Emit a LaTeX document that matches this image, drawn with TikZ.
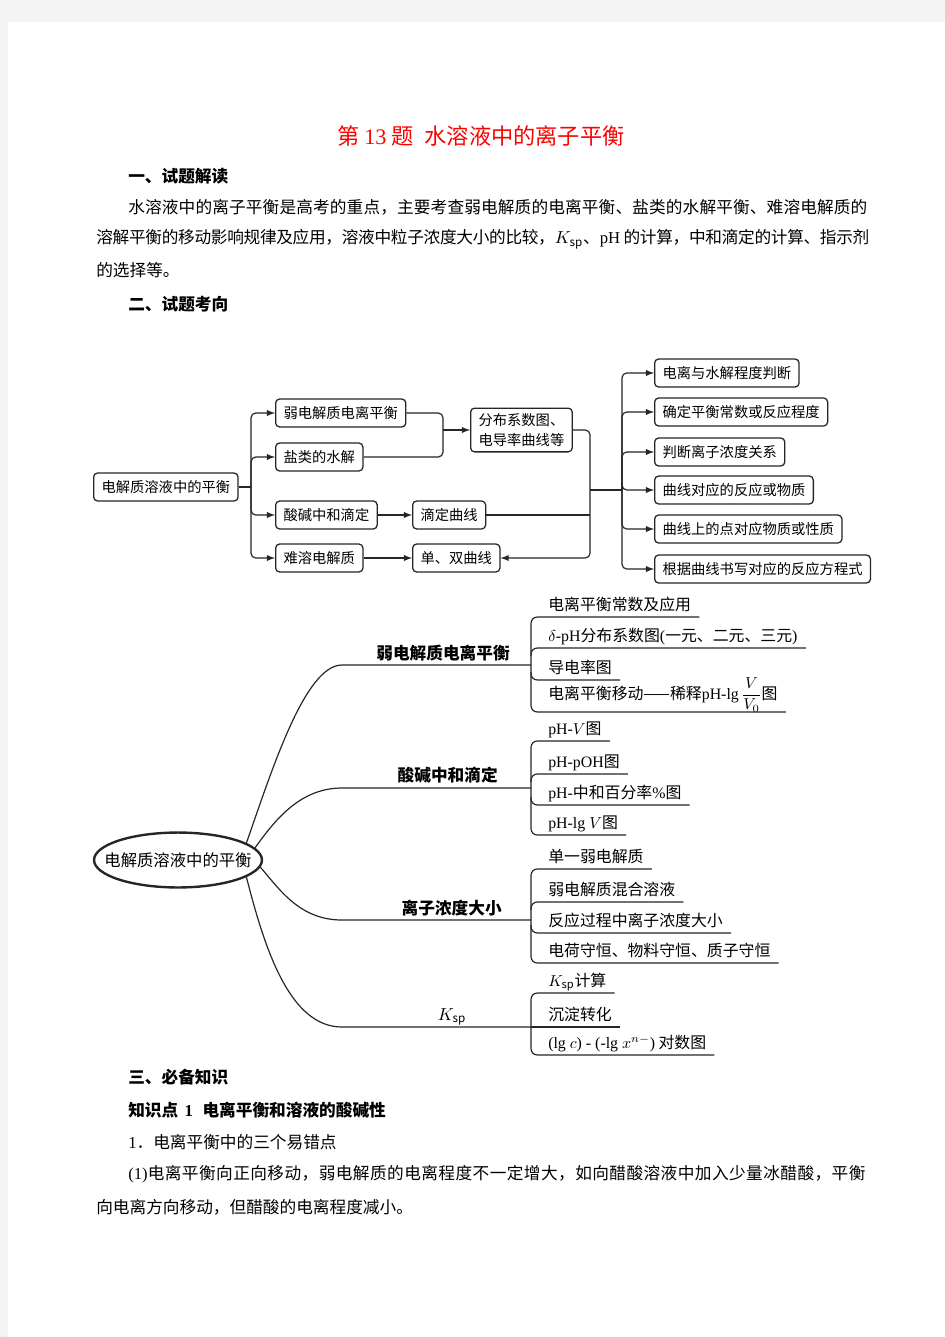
\documentclass[tikz,border=0pt]{standalone}
\usepackage{amsmath}
\usepackage{fontspec}
\setmainfont{Noto Sans CJK SC}
\newfontfamily\lat{Liberation Serif}
\usetikzlibrary{shapes.geometric}

\definecolor{pagegray}{HTML}{F3F3F3}
\definecolor{titlered}{HTML}{FF0000}

\tikzset{
  body/.style={anchor=west, inner sep=0pt, font=\fontsize{10.5}{12}\selectfont},
  head/.style={body, font=\fontsize{10.5}{12}\selectfont\bfseries},
  fbox/.style={draw=black!85, line width=0.8pt, rounded corners=2.5pt, anchor=west,
    inner xsep=5pt, minimum height=17.6pt, font=\fontsize{9}{12.6}\selectfont},
  link/.style={draw=black!85, line width=0.75pt, rounded corners=3pt},
  branch/.style={draw=black!85, line width=0.75pt},
  leaf/.style={anchor=base west, inner xsep=5pt, inner ysep=0pt, font=\fontsize{10}{12}\selectfont},
  lab/.style={anchor=base east, inner sep=0pt, font=\fontsize{10.5}{12}\selectfont\bfseries},
}

\begin{document}
\begin{tikzpicture}[x=0.63pt,y=-0.63pt,>=latex]
  \fill[pagegray] (0,0) rectangle (945,1337);
  \fill[white] (8,22) rectangle (945,1337);
  \useasboundingbox (0,0) rectangle (945,1337);

  % text above the charts
  \node[font=\fontsize{14}{16}\selectfont, text=titlered] (title) at (481,136)
    {第\hspace{3pt}{\lat 13}\hspace{3pt}题\hspace{7pt}水溶液中的离子平衡};
  \node[head] (h1) at (128,176) {一、试题解读};
  \node[body] (p1) at (128,207) {\addfontfeature{LetterSpace=0.8}水溶液中的离子平衡是高考的重点，主要考查弱电解质的电离平衡、盐类的水解平衡、难溶电解质的};
  \node[body] (p2) at (96,239) {\addfontfeature{LetterSpace=-1.8}溶解平衡的移动影响规律及应用，溶液中粒子浓度大小的比较，$K_{\mathrm{sp}}$、{\lat pH} 的计算，中和滴定的计算、指示剂};
  \node[body] (p3) at (96,270) {的选择等。};
  \node[head] (h2) at (128,304) {二、试题考向};

  % flow chart
  \node[fbox] (f0) at (93,487) {电解质溶液中的平衡};
  \node[fbox] (f1) at (275,413) {弱电解质电离平衡};
  \node[fbox] (f2) at (275,457) {盐类的水解};
  \node[fbox] (f3) at (275,515) {酸碱中和滴定};
  \node[fbox] (f4) at (275,558) {难溶电解质};
  \node[fbox, align=left] (f5) at (470,430) {分布系数图、\\电导率曲线等};
  \node[fbox] (f6) at (412,515) {滴定曲线};
  \node[fbox] (f7) at (412,558) {单、双曲线};
  \node[fbox] (g1) at (654,373) {电离与水解程度判断};
  \node[fbox] (g2) at (654,412) {确定平衡常数或反应程度};
  \node[fbox] (g3) at (654,452) {判断离子浓度关系};
  \node[fbox] (g4) at (654,490) {曲线对应的反应或物质};
  \node[fbox] (g5) at (654,529) {曲线上的点对应物质或性质};
  \node[fbox] (g6) at (654,569) {根据曲线书写对应的反应方程式};

  \coordinate (t1) at (251,487);
  \coordinate (j1) at (443,430);
  \coordinate (j2) at (590,490);
  \coordinate (t2) at (622,490);
  \draw[link] (f0.east) -- (t1);
  \foreach \n in {f1,f2,f3,f4}
    \draw[link,->] (t1) |- (\n.west);
  \draw[link,->] (f3.east) -- (f6.west);
  \draw[link,->] (f4.east) -- (f7.west);
  \draw[link] (f1.east) -| (j1);
  \draw[link] (f2.east) -| (j1);
  \draw[link,->] (j1) -- (f5.west);
  \draw[link,->] (f5.east) -| (j2) |- (f7.east);
  \draw[link] (f6.east) -- (f6.east -| j2);
  \draw[link] (j2) -- (t2);
  \foreach \n in {g1,g2,g3,g4,g5,g6}
    \draw[link,->] (t2) |- (\n.west);

  % mind map
  \node[draw=black!85, ellipse, line width=1.5pt, minimum width=105.8pt, minimum height=34.6pt] (mm) at (178,860) {};
  \node[inner sep=0pt, font=\fontsize{10.3}{12}\selectfont] (mmt) at (mm.center) {电解质溶液中的平衡};

  \coordinate (b1) at (342,665);
  \coordinate (b2) at (342,788);
  \coordinate (b3) at (342,920);
  \coordinate (b4) at (342,1027);
  \coordinate (a0) at (531,665);
  \coordinate (a1) at (531,617);
  \coordinate (a2) at (531,648);
  \coordinate (a3) at (531,680);
  \coordinate (a4) at (531,712);
  \coordinate (c0) at (531,788);
  \coordinate (c1) at (531,741);
  \coordinate (c2) at (531,774);
  \coordinate (c3) at (531,805);
  \coordinate (c4) at (531,835);
  \coordinate (d0) at (531,920);
  \coordinate (d1) at (531,869);
  \coordinate (d2) at (531,902);
  \coordinate (d3) at (531,933);
  \coordinate (d4) at (531,963);
  \coordinate (e0) at (531,1027);
  \coordinate (e1) at (531,993);
  \coordinate (e3) at (531,1055);

  \node[lab] (n1) at (510,659) {弱电解质电离平衡};
  \node[lab] (n2) at (498,781) {酸碱中和滴定};
  \node[lab] (n3) at (502,914) {离子浓度大小};
  \node[anchor=base, inner sep=0pt, font=\fontsize{10.5}{12}\selectfont] (n4) at (452,1020) {$K_{\mathrm{sp}}$};

  \node[leaf] (l11) at (540,610) {电离平衡常数及应用};
  \node[leaf] (l12) at (540,641) {$\delta${\lat -pH}分布系数图{\lat (}一元、二元、三元{\lat )}};
  \node[leaf] (l13) at (540,673) {导电率图};
  \node[leaf] (l14) at (540,699) {电离平衡移动——稀释{\lat pH-lg}$\,\dfrac{V}{V_0}$图};
  \node[leaf] (l21) at (540,734) {{\lat pH-}$V$图};
  \node[leaf] (l22) at (540,767) {{\lat pH-pOH}图};
  \node[leaf] (l23) at (540,798) {{\lat pH-}中和百分率{\lat\%}图};
  \node[leaf] (l24) at (540,828) {{\lat pH-lg }$V$图};
  \node[leaf] (l31) at (540,862) {单一弱电解质};
  \node[leaf] (l32) at (540,895) {弱电解质混合溶液};
  \node[leaf] (l33) at (540,926) {反应过程中离子浓度大小};
  \node[leaf] (l34) at (540,956) {电荷守恒、物料守恒、质子守恒};
  \node[leaf] (l41) at (540,986) {$K_{\mathrm{sp}}$计算};
  \node[leaf] (l42) at (540,1020) {沉淀转化};
  \node[leaf] (l43) at (540,1048) {{\lat (lg }$c${\lat ) - (-lg }$x^{n-}${\lat )} 对数图};

  \draw[branch] (mm.14) .. controls (272,770) and (305,665) .. (b1) -- (a0);
  \draw[branch] (mm.9) .. controls (275,820) and (300,788) .. (b2) -- (c0);
  \draw[branch] (mm.-5) .. controls (280,890) and (300,920) .. (b3) -- (d0);
  \draw[branch] (mm.-14) .. controls (265,950) and (290,1027) .. (b4) -- (e0);

  \draw[branch, rounded corners=4pt] (a1 -| l11.east) -- (a1) -- (a4) -- (a4 -| l14.east);
  \draw[branch, rounded corners=4pt] (a2) ++(0,8) -- (a2) -- (a2 -| l12.east);
  \draw[branch, rounded corners=4pt] (a3) ++(0,-8) -- (a3) -- (a3 -| l13.east);
  \draw[branch, rounded corners=4pt] (c1 -| l21.east) -- (c1) -- (c4) -- (c4 -| l24.east);
  \draw[branch, rounded corners=4pt] (c2) ++(0,8) -- (c2) -- (c2 -| l22.east);
  \draw[branch, rounded corners=4pt] (c3) ++(0,-8) -- (c3) -- (c3 -| l23.east);
  \draw[branch, rounded corners=4pt] (d1 -| l31.east) -- (d1) -- (d4) -- (d4 -| l34.east);
  \draw[branch, rounded corners=4pt] (d2) ++(0,8) -- (d2) -- (d2 -| l32.east);
  \draw[branch, rounded corners=4pt] (d3) ++(0,-8) -- (d3) -- (d3 -| l33.east);
  \draw[branch, rounded corners=4pt] (e1 -| l41.east) -- (e1) -- (e3) -- (e3 -| l43.east);
  \draw[branch] (e0) -- (e0 -| l42.east);

  % text below the charts
  \node[head] (h3) at (128,1077) {三、必备知识};
  \node[head] (h4) at (128,1110) {知识点\hspace{4pt}{\lat 1}\hspace{6pt}电离平衡和溶液的酸碱性};
  \node[body] (p4) at (128,1142) {{\lat 1}．电离平衡中的三个易错点};
  \node[body] (p5) at (128,1174) {\addfontfeature{LetterSpace=2.6}{\lat (1)}电离平衡向正向移动，弱电解质的电离程度不一定增大，如向醋酸溶液中加入少量冰醋酸，平衡};
  \node[body] (p6) at (96,1207) {向电离方向移动，但醋酸的电离程度减小。};
\end{tikzpicture}
\end{document}
